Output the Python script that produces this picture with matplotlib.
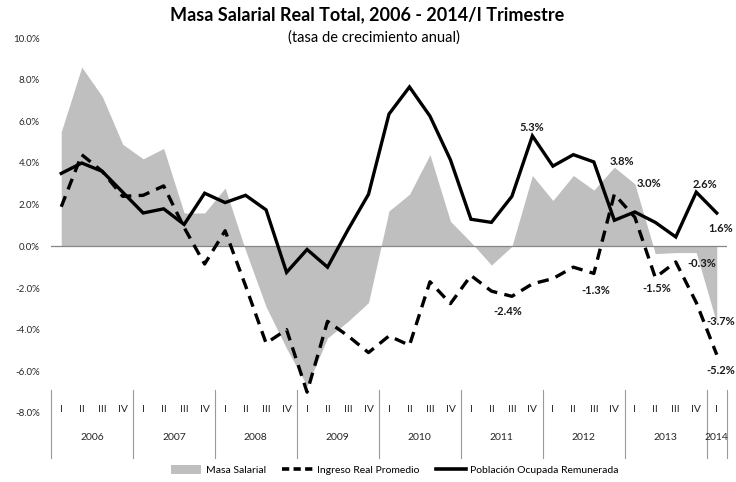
import numpy as np
import matplotlib
matplotlib.use('Agg')
import matplotlib.pyplot as plt
import matplotlib.transforms as mtransforms
from matplotlib.lines import Line2D
from matplotlib.patches import Patch
from matplotlib.ticker import FuncFormatter

plt.rcParams['font.family'] = ['Lato', 'DejaVu Sans']

# ---------------- data ----------------
years = ['2006', '2007', '2008', '2009', '2010', '2011', '2012', '2013', '2014']
quarters = ['I', 'II', 'III', 'IV'] * 8 + ['I']

masa_salarial = [5.5, 8.6, 7.2, 4.9, 4.2, 4.7, 1.6, 1.6, 2.8, -0.2, -2.9, -4.9, -6.7,
                 -4.4, -3.6, -2.7, 1.7, 2.5, 4.4, 1.2, 0.2, -0.9, 0.0, 3.4, 2.2, 3.4,
                 2.7, 3.8, 3.0, -0.35, -0.3, -0.3, -3.7]
ingreso_real = [1.9, 4.4, 3.6, 2.4, 2.45, 2.9, 0.9, -0.85, 0.75, -1.9, -4.65, -4.0, -7.0,
                -3.6, -4.3, -5.1, -4.3, -4.75, -1.7, -2.75, -1.4, -2.15, -2.4, -1.8, -1.55,
                -1.0, -1.3, 2.5, 1.4, -1.5, -0.75, -2.7, -5.2]
poblacion = [3.5, 4.0, 3.6, 2.6, 1.6, 1.8, 1.05, 2.55, 2.1, 2.45, 1.75, -1.25, -0.15,
             -1.0, 0.8, 2.5, 6.35, 7.65, 6.25, 4.15, 1.3, 1.15, 2.4, 5.3, 3.85, 4.4,
             4.05, 1.25, 1.65, 1.15, 0.45, 2.6, 1.6]

series_names = ['Masa Salarial', 'Ingreso Real Promedio', 'Población Ocupada Remunerada']
title = 'Masa Salarial Real Total, 2006 - 2014/I Trimestre'
subtitle = '(tasa de crecimiento anual)'

# ---------------- figure ----------------
W, H = 736, 482
fig = plt.figure(figsize=(W / 100, H / 100), dpi=100)
L, R, T, B = 51, 727, 38, 413
ax = fig.add_axes([L / W, 1 - B / H, (R - L) / W, (B - T) / H])

n = len(masa_salarial)
x = np.arange(n)
ax.set_xlim(-0.5, n - 0.5)
ax.set_ylim(-8, 10)

ax.fill_between(x, masa_salarial, 0, color='#bfbfbf', lw=0, zorder=1)
ax.axhline(0, color='#868686', lw=0.9, zorder=2)
ax.plot(x, ingreso_real, color='black', lw=2.4, dashes=(3.4, 2.2), zorder=3)
ax.plot(x, poblacion, color='black', lw=2.4, zorder=4, solid_joinstyle='miter')

for s in ax.spines.values():
    s.set_visible(False)
ax.set_xticks([])
ax.set_yticks(np.arange(-8, 10.1, 2))
ax.yaxis.set_major_formatter(FuncFormatter(lambda v, p: f'{v:.1f}%'))
ax.tick_params(axis='y', length=0, pad=8, labelsize=7, labelcolor='#262626')

# ---------------- data labels ----------------
def lab(series, i, dx, dy):
    v = series[i]
    ax.annotate(f'{v:.1f}%', xy=(i, v), xytext=(dx, dy), textcoords='offset pixels',
                ha='center', va='center', fontsize=8, fontweight='bold', color='#1a1a1a',
                zorder=6)

lab(poblacion, 23, -1, 8)
lab(masa_salarial, 27, 7, 6)
lab(masa_salarial, 28, 14, 0)
lab(poblacion, 31, 9, 8)
lab(poblacion, 32, 4, -15)
lab(masa_salarial, 31, 5, -11)
lab(masa_salarial, 32, 4, 2)
lab(ingreso_real, 32, 4, -16)
lab(ingreso_real, 26, 2, -17)
lab(ingreso_real, 29, 1, -11)
lab(ingreso_real, 22, -4, -15)

# ---------------- multi-level category axis ----------------
trans = mtransforms.blended_transform_factory(ax.transData, fig.transFigure)
yq = 1 - 409 / H
yy = 1 - 437 / H
for i, q in enumerate(quarters):
    fig.text(i, yq, q, transform=trans, ha='center', va='center', fontsize=7.5, color='#262626')
for k, yr in enumerate(years):
    idx = [j for j in range(n) if j // 4 == k]
    cx = (idx[0] + idx[-1]) / 2
    fig.text(cx, yy, yr, transform=trans, ha='center', va='center', fontsize=7.5, color='#262626')
bounds = [-0.5] + [4 * k + 3.5 for k in range(8)] + [n - 0.5]
for bx in bounds:
    fig.add_artist(Line2D([bx, bx], [1 - 390 / H, 1 - 458 / H], transform=trans,
                          color='#9a9a9a', lw=0.8))

# ---------------- legend ----------------
handles = [Patch(facecolor='#bfbfbf', edgecolor='none'),
           Line2D([], [], color='black', lw=2.6, dashes=(2.0, 1.2)),
           Line2D([], [], color='black', lw=2.6)]
fig.legend(handles, series_names, loc='center', bbox_to_anchor=(395 / W, 1 - 470 / H),
           ncol=3, frameon=False, fontsize=7.5, handlelength=2.9, columnspacing=1.6,
           handletextpad=0.4, handleheight=0.9)

# ---------------- titles ----------------
fig.text(367 / W, 1 - 15 / H, title, ha='center', va='center', fontsize=13,
         fontweight='bold', color='black')
fig.text(374 / W, 1 - 38 / H, subtitle, ha='center', va='center', fontsize=10.5,
         color='black')

fig.savefig('out.png', dpi=100)
